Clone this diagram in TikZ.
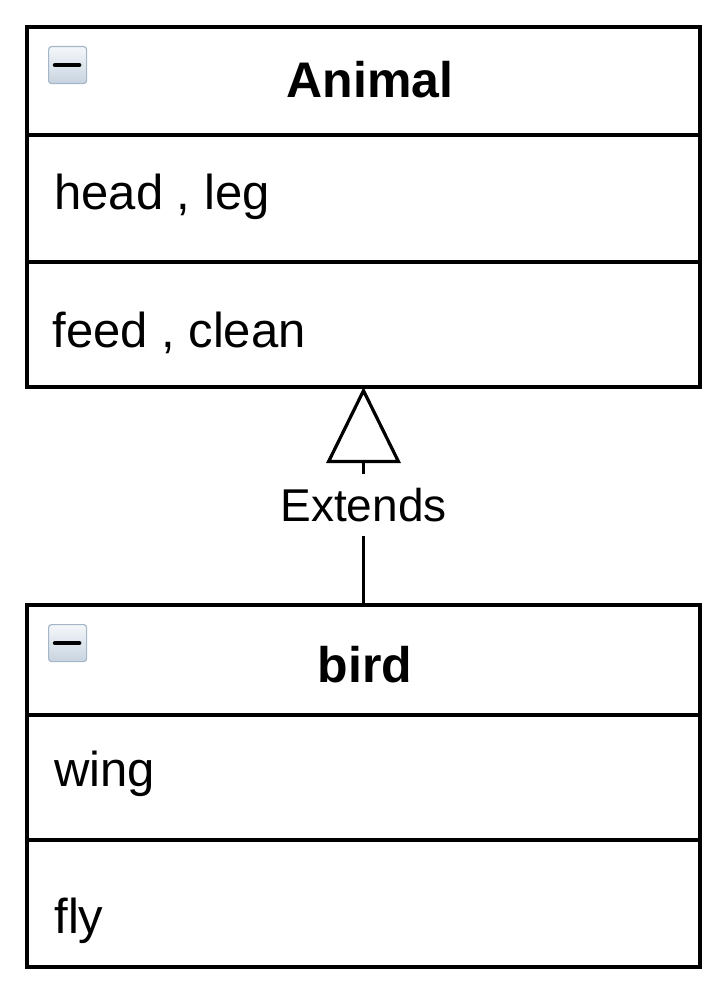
\documentclass[tikz,border=0pt]{standalone}
\usepackage{fontspec}
\setmainfont{Liberation Sans}
\usetikzlibrary{arrows.meta, positioning}

\definecolor{iconedge}{RGB}{165,182,200}
\definecolor{icontop}{RGB}{244,247,250}
\definecolor{iconbottom}{RGB}{200,212,224}

\tikzset{
  compartment/.style={draw=black, line width=1.6pt, minimum width=336.5pt, inner sep=0pt, outer sep=0pt},
  classname/.style={font=\fontsize{25}{29}\selectfont\bfseries, inner sep=0pt, anchor=base},
  member/.style={font=\fontsize{24.5}{29}\selectfont, inner sep=0pt, anchor=base west},
  collapse/.style={draw=iconedge, line width=0.6pt, rounded corners=1.5pt, top color=icontop,
                   bottom color=iconbottom, minimum width=19pt, minimum height=18.5pt,
                   inner sep=0pt, anchor=north west},
}

\begin{document}
\begin{tikzpicture}[x=0.5pt, y=-0.5pt]
  \useasboundingbox (0,0) rectangle (712,988);

  % Animal class: name, attributes, operations
  \node[compartment, minimum height=54pt, anchor=north west] (animal) at (27,27) {};
  \node[compartment, minimum height=63.5pt, below=0pt of animal]     (animalattr) {};
  \node[compartment, minimum height=62.5pt, below=0pt of animalattr] (animalops)  {};

  \node[classname] (animalname) at ([shift={(343,71)}]animal.north west)     {Animal};
  \node[member]    (animalhead) at ([shift={(27,75)}]animalattr.north west)  {head , leg};
  \node[member]    (animalfeed) at ([shift={(25,86)}]animalops.north west)   {feed , clean};

  \node[collapse] (animalicon) at ([shift={(21,19)}]animal.north west) {};
  \draw[line width=2.2pt, line cap=round] ([xshift=3.5pt]animalicon.west) -- ([xshift=-4pt]animalicon.east);

  % bird class
  \node[compartment, minimum height=55pt, anchor=north west] (bird) at (27,605) {};
  \node[compartment, minimum height=62.5pt, below=0pt of bird]     (birdattr) {};
  \node[compartment, minimum height=63.5pt, below=0pt of birdattr] (birdops)  {};

  \node[classname] (birdname) at ([shift={(338,77)}]bird.north west)    {bird};
  \node[member]    (birdwing) at ([shift={(27,71)}]birdattr.north west) {wing};
  \node[member]    (birdfly)  at ([shift={(27,93)}]birdops.north west)  {fly};

  \node[collapse] (birdicon) at ([shift={(21,19)}]bird.north west) {};
  \draw[line width=2.2pt, line cap=round] ([xshift=3.5pt]birdicon.west) -- ([xshift=-4pt]birdicon.east);

  % generalisation
  \draw[line width=1.6pt, -{Triangle[open, length=38pt, width=37pt]}] (bird.north)
       -- node[pos=0.46, fill=white, inner xsep=2pt, inner ysep=7pt,
               font=\fontsize{23}{27}\selectfont] (extends) {Extends}
       (animalops.south);
\end{tikzpicture}
\end{document}
